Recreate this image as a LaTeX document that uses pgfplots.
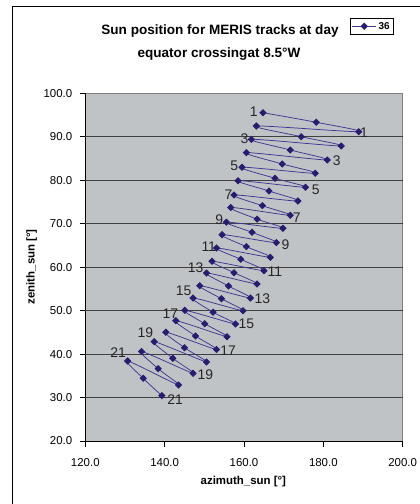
\documentclass[border=0pt]{standalone}
\usepackage{fontspec}
\setmainfont{Liberation Sans}
\usepackage{pgfplots}
\pgfplotsset{compat=1.18}

\definecolor{plotbg}{RGB}{191,195,198}
\definecolor{trackmark}{RGB}{40,28,110}
\definecolor{trackline}{RGB}{64,54,145}

\begin{document}
\begin{tikzpicture}
% page frame (chart area)
\useasboundingbox (0,0) rectangle (420bp,-504bp);
\draw[black, line width=0.9bp] (12bp,-504bp) -- (12bp,-6bp) -- (420bp,-6bp);

% title
\node[anchor=base, font=\bfseries\fontsize{13.6}{14}\selectfont] at (220bp,-34.5bp) {Sun position for MERIS tracks at day};
\node[anchor=base, font=\bfseries\fontsize{13.6}{14}\selectfont] at (219bp,-57bp) {equator crossingat 8.5°W};

\begin{axis}[
  at={(85.3bp,-441bp)}, anchor=south west,
  scale only axis,
  width=317.4bp, height=347.7bp,
  xmin=120, xmax=200, ymin=20, ymax=100,
  xtick={120,140,...,200},
  ytick={20,30,...,100},
  extra y ticks={30,40,...,90},
  extra y tick labels={},
  extra y tick style={grid=major, major tick length=0pt},
  major grid style={black!75, line width=0.8bp},
  axis x line*=bottom, axis y line*=left,
  axis line style={-, black, line width=0.9bp},
  axis background/.style={fill=plotbg, draw=black!50, line width=0.8bp},
  tick align=outside,
  major tick length=5.5bp,
  tick style={black, line width=0.8bp},
  /pgf/number format/assume math mode=true,
  /pgf/number format/.cd, fixed, fixed zerofill, precision=1, /pgfplots/.cd,
  tick label style={font=\fontsize{11.5}{12}\selectfont},
  xticklabel style={yshift=-8bp},
  yticklabel style={xshift=-4bp},
  xlabel={azimuth\_sun [°]},
  ylabel={zenith\_sun [°]},
  label style={font=\bfseries\fontsize{11.5}{12}\selectfont},
  xlabel style={at={(axis description cs:0.498,-0.118)}, anchor=center},
  ylabel style={at={(axis description cs:-0.169,0.501)}, anchor=center, rotate=0},
  legend style={at={(0.9726,1.2157)}, anchor=north east, draw=black, fill=white,
    line width=0.6bp, font=\bfseries\fontsize{10}{10}\selectfont,
    inner xsep=2bp, inner ysep=1.5bp, cells={anchor=west}},
  legend image code/.code={\draw[#1, mark repeat=2, mark phase=2] plot coordinates {(0bp,0bp) (12bp,0bp) (24bp,0bp)};},
]
\addplot[trackline, line width=0.75bp, smooth, tension=0.5,
  mark=square*, mark size=2.2bp,
  mark options={rotate=45, solid, fill=trackmark, draw=trackmark}]
coordinates {
  (164.78,95.54) (178.21,93.33) (188.93,91.17)
  (163.12,92.48) (174.44,90.02) (184.50,87.88)
  (161.86,89.42) (171.67,86.96) (180.98,84.66)
  (160.60,86.34) (169.66,83.74) (177.96,81.60)
  (159.50,82.98) (167.80,80.45) (175.52,78.38)
  (158.49,79.90) (166.29,77.52) (173.58,75.22)
  (157.48,76.60) (164.63,74.14) (171.67,71.93)
  (156.65,73.73) (163.32,71.04) (169.81,68.94)
  (155.57,70.35) (162.01,68.02) (168.15,65.63)
  (154.47,67.47) (160.60,64.71) (166.64,62.27)
  (153.06,64.41) (159.17,61.81) (165.03,59.19)
  (151.95,61.35) (157.48,58.73) (163.27,56.13)
  (150.54,58.66) (156.08,55.67) (161.61,52.90)
  (148.86,55.73) (154.31,52.74) (159.75,49.98)
  (147.17,52.90) (152.20,49.64) (157.84,46.92)
  (145.08,50.07) (150.11,46.99) (155.72,44.00)
  (142.82,47.68) (147.80,44.16) (153.06,41.05)
  (140.30,45.03) (145.01,41.47) (150.54,38.18)
  (137.36,42.85) (142.06,39.03) (147.17,35.58)
  (134.19,40.59) (138.36,36.64) (143.50,32.89)
  (130.67,38.41) (134.59,34.43) (139.30,30.42)
};
\addlegendentry{36}

% track numbers at the start and end of every other track
\begin{scope}[every node/.style={font=\fontsize{14}{14}\selectfont, inner sep=0pt, text=black!85}]
\node at (axis cs:162.49,95.77) {1};
\node at (axis cs:160.13,89.56) {3};
\node at (axis cs:157.53,83.23) {5};
\node at (axis cs:156.10,76.56) {7};
\node at (axis cs:153.76,70.90) {9};
\node at (axis cs:151.12,64.64) {11};
\node at (axis cs:147.80,59.92) {13};
\node at (axis cs:144.78,54.56) {15};
\node at (axis cs:141.43,49.18) {17};
\node at (axis cs:135.14,44.97) {19};
\node at (axis cs:128.30,40.36) {21};
\node at (axis cs:190.24,90.91) {1};
\node at (axis cs:183.37,84.47) {3};
\node at (axis cs:178.09,77.87) {5};
\node at (axis cs:173.31,71.43) {7};
\node at (axis cs:170.44,65.10) {9};
\node at (axis cs:167.80,58.96) {11};
\node at (axis cs:164.65,52.83) {13};
\node at (axis cs:160.60,46.88) {15};
\node at (axis cs:155.97,40.89) {17};
\node at (axis cs:150.29,35.19) {19};
\node at (axis cs:142.64,29.62) {21};
\end{scope}
\end{axis}
\end{tikzpicture}
\end{document}
